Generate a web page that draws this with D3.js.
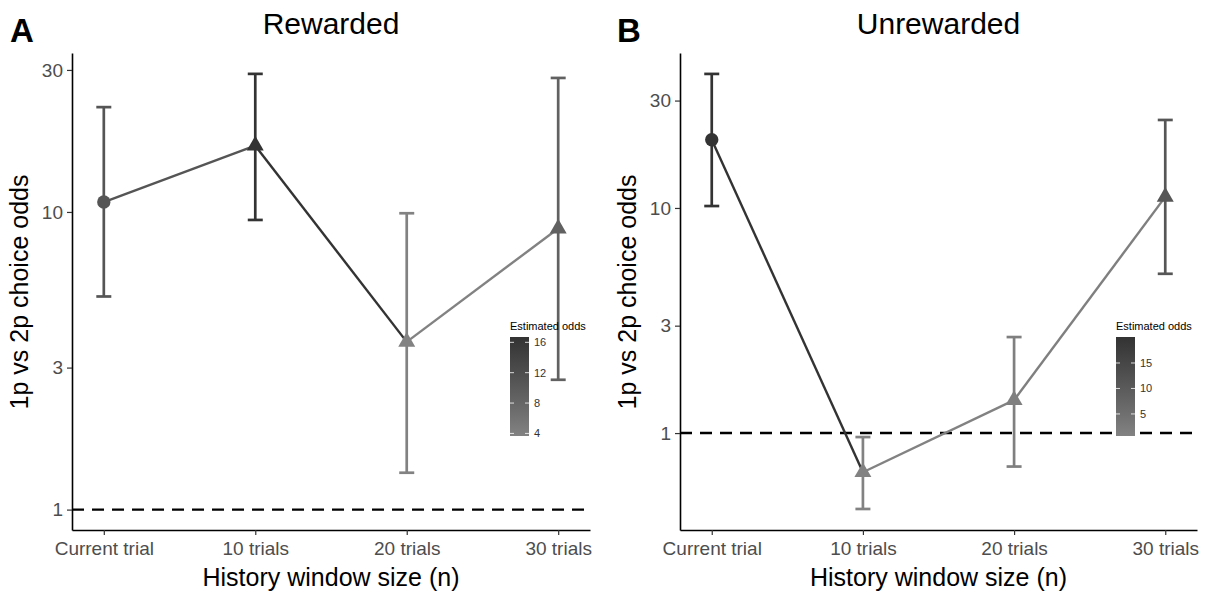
<!DOCTYPE html>
<html>
<head>
<meta charset="utf-8">
<script src="https://cdn.jsdelivr.net/npm/d3@7"></script>
<style>
  body { margin: 0; background: #fff; }
  svg { font-family: "Liberation Sans", Arial, sans-serif; }
</style>
</head>
<body>
<div id="chart"></div>
<script>
// data
const windows = ["Current trial", "10 trials", "20 trials", "30 trials"];
const shapes = ["circle", "triangle", "triangle", "triangle"];

const rewardedOdds = [10.8, 16.7, 3.66, 8.8];
const rewardedLow = [5.2, 9.4, 1.33, 2.73];
const rewardedHigh = [22.5, 29.1, 9.9, 28.2];

const unrewardedOdds = [20.1, 0.67, 1.40, 11.2];
const unrewardedLow = [10.2, 0.46, 0.71, 5.1];
const unrewardedHigh = [39.4, 0.96, 2.67, 24.6];

const yTicks = [1, 3, 10, 30];
const rewardedLegendTicks = [4, 8, 12, 16];
const unrewardedLegendTicks = [5, 10, 15];

const WIDTH = 1211, HEIGHT = 594;

const svg = d3.select("#chart").append("svg")
  .attr("width", WIDTH)
  .attr("height", HEIGHT);

const defs = svg.append("defs");

function drawPanel(opt) {
  const g = svg.append("g");
  const rows = windows.map((w, i) => ({
    w: w, shape: shapes[i], est: opt.est[i], lo: opt.lo[i], hi: opt.hi[i]
  }));

  const x = d3.scalePoint().domain(windows).range([opt.left, opt.right]).padding(0.21);
  const y = d3.scaleLog().domain(opt.yLim).range([530, 53]);

  const color = d3.scaleLinear()
    .domain(d3.extent(opt.est))
    .range(["#828282", "#333333"])
    .interpolate(d3.interpolateLab);

  // reference line at odds = 1
  g.append("line")
    .attr("x1", opt.left).attr("x2", opt.right)
    .attr("y1", y(1)).attr("y2", y(1))
    .attr("stroke", "#000").attr("stroke-width", 2.4)
    .attr("stroke-dasharray", "12,8");

  // axes
  const yAxis = g.append("g")
    .attr("transform", `translate(${opt.left},0)`)
    .call(d3.axisLeft(y).tickValues(yTicks).tickFormat(d3.format("d"))
      .tickSizeInner(5).tickSizeOuter(0).tickPadding(4));
  const xAxis = g.append("g")
    .attr("transform", "translate(0,530)")
    .call(d3.axisBottom(x).tickSizeInner(5).tickSizeOuter(0).tickPadding(7));

  [yAxis, xAxis].forEach(a => {
    a.select(".domain").attr("stroke", "#000").attr("stroke-width", 1.6);
    a.selectAll(".tick line").attr("stroke", "#333").attr("stroke-width", 1.2);
    a.selectAll(".tick text").attr("fill", "#4d4d4d").attr("font-size", 19);
  });

  // line segments, each coloured by the starting point
  for (let i = 0; i < rows.length - 1; i++) {
    g.append("line")
      .attr("x1", x(rows[i].w)).attr("y1", y(rows[i].est))
      .attr("x2", x(rows[i + 1].w)).attr("y2", y(rows[i + 1].est))
      .attr("stroke", color(rows[i].est))
      .attr("stroke-width", 2.4);
  }

  // error bars
  const eb = g.selectAll(".eb").data(rows).enter().append("g")
    .attr("stroke", d => color(d.est))
    .attr("stroke-width", 2.7);
  eb.append("line")
    .attr("x1", d => x(d.w)).attr("x2", d => x(d.w))
    .attr("y1", d => y(d.lo)).attr("y2", d => y(d.hi));
  eb.append("line")
    .attr("x1", d => x(d.w) - 7.5).attr("x2", d => x(d.w) + 7.5)
    .attr("y1", d => y(d.hi)).attr("y2", d => y(d.hi));
  eb.append("line")
    .attr("x1", d => x(d.w) - 7.5).attr("x2", d => x(d.w) + 7.5)
    .attr("y1", d => y(d.lo)).attr("y2", d => y(d.lo));

  // points
  const sym = { circle: d3.symbolCircle, triangle: d3.symbolTriangle };
  g.selectAll(".pt").data(rows).enter().append("path")
    .attr("transform", d => `translate(${x(d.w)},${y(d.est)})`)
    .attr("d", d => d3.symbol().type(sym[d.shape]).size(d.shape === "circle" ? 140 : 125)())
    .attr("fill", d => color(d.est));

  // titles
  const mid = (opt.left + opt.right) / 2;
  g.append("text").attr("x", mid).attr("y", 34).attr("text-anchor", "middle")
    .attr("font-size", 30).attr("fill", "#000").text(opt.title);
  g.append("text").attr("x", opt.tagX).attr("y", 42)
    .attr("font-size", 33).attr("font-weight", "bold").attr("fill", "#000").text(opt.tag);
  g.append("text").attr("x", mid).attr("y", 586).attr("text-anchor", "middle")
    .attr("font-size", 25).attr("fill", "#000").text("History window size (n)");
  g.append("text")
    .attr("transform", `translate(${opt.left - 44},292) rotate(-90)`)
    .attr("text-anchor", "middle")
    .attr("font-size", 25).attr("fill", "#000").text("1p vs 2p choice odds");

  // colour bar legend
  const lx = opt.legendX, ltop = 337, lbot = 436, lw = 19;
  const ext = d3.extent(opt.est);
  const ly = d3.scaleLinear().domain(ext).range([lbot, ltop]);
  const gid = "grad" + opt.tag;
  const grad = defs.append("linearGradient").attr("id", gid)
    .attr("x1", 0).attr("x2", 0).attr("y1", 1).attr("y2", 0);
  d3.range(0, 1.0001, 0.1).forEach(t => {
    grad.append("stop").attr("offset", t)
      .attr("stop-color", color(ext[0] + t * (ext[1] - ext[0])));
  });
  g.append("text").attr("x", lx).attr("y", 330)
    .attr("font-size", 11).attr("fill", "#000").text("Estimated odds");
  g.append("rect").attr("x", lx).attr("y", ltop).attr("width", lw).attr("height", lbot - ltop)
    .attr("fill", `url(#${gid})`);
  opt.legendTicks.forEach(t => {
    g.append("line").attr("x1", lx).attr("x2", lx + 4).attr("y1", ly(t)).attr("y2", ly(t))
      .attr("stroke", "#fff").attr("stroke-opacity", 0.8);
    g.append("line").attr("x1", lx + lw - 4).attr("x2", lx + lw).attr("y1", ly(t)).attr("y2", ly(t))
      .attr("stroke", "#fff").attr("stroke-opacity", 0.8);
    g.append("text").attr("x", lx + lw + 5).attr("y", ly(t)).attr("dy", "0.35em")
      .attr("font-size", 11).attr("fill", "#333").text(t);
  });
}

drawPanel({
  tag: "A", tagX: 10, title: "Rewarded",
  left: 72, right: 590, yLim: [0.854, 34.2],
  est: rewardedOdds, lo: rewardedLow, hi: rewardedHigh,
  legendX: 510, legendTicks: rewardedLegendTicks
});

drawPanel({
  tag: "B", tagX: 617, title: "Unrewarded",
  left: 680, right: 1197, yLim: [0.371, 48.8],
  est: unrewardedOdds, lo: unrewardedLow, hi: unrewardedHigh,
  legendX: 1116, legendTicks: unrewardedLegendTicks
});
</script>
</body>
</html>
